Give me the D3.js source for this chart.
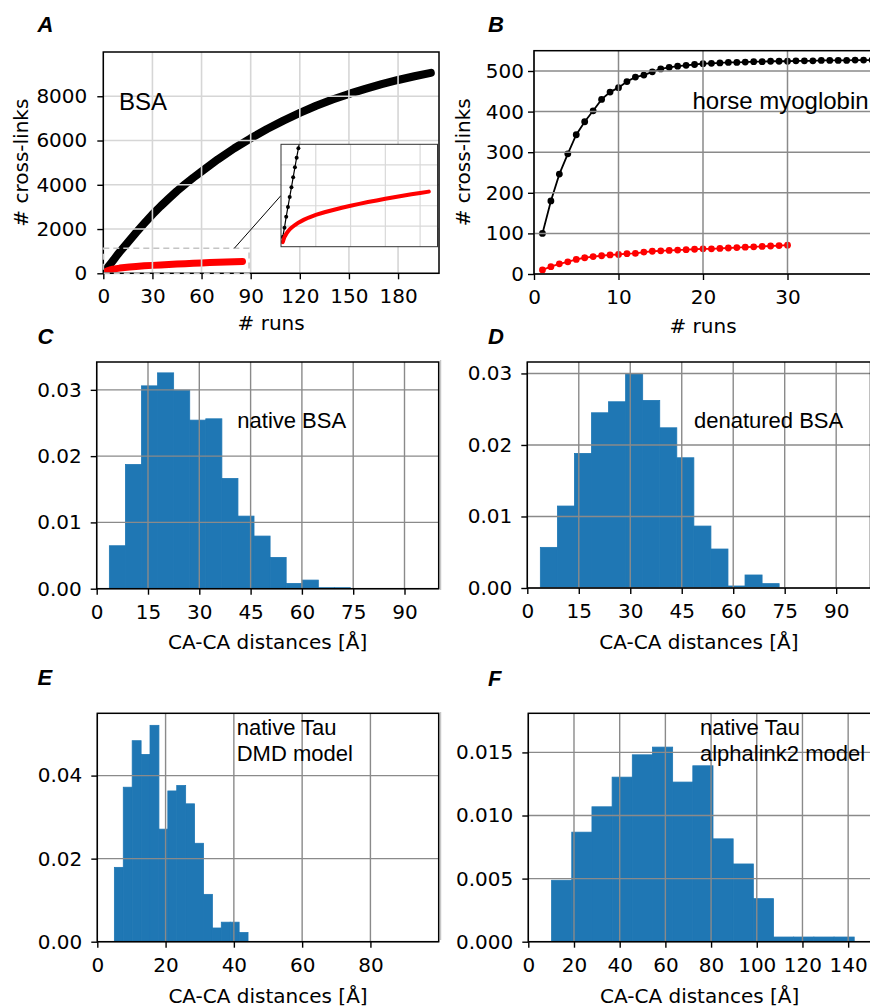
<!DOCTYPE html>
<html>
<head>
<meta charset="utf-8">
<script src="https://cdn.jsdelivr.net/npm/d3@7"></script>
<style>
  body { margin: 0; background: #fff; }
  svg { display: block; }
  .tick text { font-family: "DejaVu Sans", sans-serif; font-size: 20px; fill: #000; }
  .lab { font-family: "DejaVu Sans", sans-serif; font-size: 20px; fill: #000; }
  .note { font-family: "Liberation Sans", Arial, sans-serif; fill: #000; }
  .letter { font-family: "Liberation Sans", Arial, sans-serif; font-weight: bold; font-style: italic; font-size: 22px; }
</style>
</head>
<body>
<div id="canvas"></div>
<script>
"use strict";

// A: BSA, cumulative cross-links vs runs
let bsaRuns = [1, 2, 3, 4, 5, 6, 7, 8, 9, 10, 15, 20, 25, 30, 35, 40, 45, 50, 55, 60,
    70, 80, 90, 100, 110, 120, 130, 140, 150, 160, 170, 180, 190, 200];
let bsaAll = [95, 186, 293, 388, 485, 580, 678, 775, 869, 961, 1400, 1840, 2255, 2660, 3030, 3380, 3720, 4030, 4325, 4600,
    5150, 5650, 6100, 6520, 6900, 7250, 7570, 7855, 8105, 8335, 8545, 8735, 8905, 9060];
let bsaRedRuns = [1, 2, 3, 4, 5, 6, 8, 10, 13, 16, 20, 25, 30, 35, 40, 45, 50, 55, 60, 65, 70, 75, 80, 85];
let bsaRed = [45, 95, 125, 150, 170, 185, 212, 235, 262, 285, 310, 336, 358, 380, 400, 418, 436, 452, 468, 483, 498, 512, 525, 538];

// B: horse myoglobin
let myoRuns = [1, 2, 3, 4, 5, 6, 7, 8, 9, 10, 11, 12, 13, 14, 15, 16, 17, 18, 19, 20,
    21, 22, 23, 24, 25, 26, 27, 28, 29, 30, 31, 32, 33, 34, 35, 36, 37, 38, 39, 40];
let myoAll = [100, 180, 246, 296, 343, 375, 402, 430, 448, 459, 474, 485, 490, 498, 505, 509, 512, 514, 516, 518,
    519, 520, 521, 521, 522, 523, 523, 524, 524, 524, 525, 525, 525, 526, 526, 526, 526, 527, 527, 527];
let myoRedRuns = [1, 2, 3, 4, 5, 6, 7, 8, 9, 10, 11, 12, 13, 14, 15, 16, 17, 18, 19, 20,
    21, 22, 23, 24, 25, 26, 27, 28, 29, 30];
let myoRed = [10, 18, 25, 30, 36, 40, 43, 45, 47, 48, 50, 51, 54, 56, 57, 58, 59, 60, 61, 62,
    62, 63, 64, 65, 66, 67, 68, 69, 70, 71];

// C-F: histograms (bin edges, density)
let nativeBsaEdges = [3.7, 8.4, 13.1, 17.8, 22.5, 27.2, 31.9, 36.6, 41.3, 46.0, 50.7, 55.4, 60.1, 64.8, 69.5, 74.2];
let nativeBsaDensity = [0.00648, 0.01874, 0.0306, 0.03256, 0.02995, 0.02543, 0.02563, 0.01663, 0.01095, 0.00794,
    0.00472, 0.0008, 0.0013, 0.00015, 0.00015];
let denatBsaEdges = [3.8, 8.77, 13.74, 18.71, 23.68, 28.65, 33.62, 38.59, 43.56, 48.53, 53.5, 58.47, 63.44, 68.41, 73.38];
let denatBsaDensity = [0.00568, 0.01146, 0.01882, 0.0245, 0.02604, 0.0300, 0.02623, 0.0224, 0.01821, 0.00866,
    0.00545, 0.00028, 0.00182, 0.00061];
let tauDmdEdges = [5.0, 7.61, 10.22, 12.83, 15.44, 18.05, 20.66, 23.27, 25.88, 28.49, 31.1, 33.71, 36.32, 38.93, 41.54, 44.15];
let tauDmdDensity = [0.0179, 0.0372, 0.0484, 0.0451, 0.0521, 0.0271, 0.0363, 0.0376, 0.0332, 0.0237,
    0.0114, 0.0033, 0.0047, 0.0047, 0.0022];
let tauAlphaEdges = [10.2, 19.03, 27.86, 36.69, 45.52, 54.35, 63.18, 72.01, 80.84, 89.67, 98.5, 107.33, 116.16, 124.99, 133.82, 142.65];
let tauAlphaDensity = [0.00487, 0.00868, 0.01069, 0.01304, 0.01481, 0.01542, 0.01265, 0.01394, 0.00815, 0.00616,
    0.00341, 0.00037, 0.00037, 0.00037, 0.00037];

let svg = d3.select("#canvas")
    .append("svg")
    .attr("width", 870)
    .attr("height", 1007);

let clipCount = 0;

function panel(box, xDomain, yDomain) {
    let x = d3.scaleLinear().domain(xDomain).range([box.l, box.r]);
    let y = d3.scaleLinear().domain(yDomain).range([box.b, box.t]);
    let id = "clip" + (clipCount++);
    svg.append("clipPath").attr("id", id)
        .append("rect")
        .attr("x", box.l).attr("y", box.t)
        .attr("width", box.r - box.l).attr("height", box.b - box.t);
    let g = svg.append("g");
    let data = g.append("g").attr("clip-path", `url(#${id})`);
    return { g: g, data: data, x: x, y: y, box: box };
}

function gridAndAxes(p, xTicks, yTicks, opt) {
    let box = p.box;
    let grid = p.g.append("g").attr("stroke", opt.grid).attr("stroke-width", opt.gridWidth || 1.4);
    grid.selectAll(".gx").data(xTicks).join("line")
        .attr("x1", d => p.x(d)).attr("x2", d => p.x(d))
        .attr("y1", box.t).attr("y2", box.b);
    grid.selectAll(".gy").data(yTicks).join("line")
        .attr("x1", box.l).attr("x2", box.r)
        .attr("y1", d => p.y(d)).attr("y2", d => p.y(d));

    p.g.append("rect")
        .attr("x", box.l).attr("y", box.t)
        .attr("width", box.r - box.l).attr("height", box.b - box.t)
        .attr("fill", "none").attr("stroke", "#000").attr("stroke-width", 1.5);

    let xa = p.g.append("g").attr("transform", `translate(0,${box.b})`)
        .call(d3.axisBottom(p.x).tickValues(xTicks).tickSize(6).tickPadding(opt.xPad || 10)
            .tickFormat(opt.xFormat || d3.format("d")));
    let ya = p.g.append("g").attr("transform", `translate(${box.l},0)`)
        .call(d3.axisLeft(p.y).tickValues(yTicks).tickSize(6).tickPadding(opt.yPad || 9)
            .tickFormat(opt.yFormat || d3.format("d")));
    [xa, ya].forEach(a => {
        a.select(".domain").remove();
        a.selectAll(".tick line").attr("stroke", "#000").attr("stroke-width", 1.4);
    });

    if (opt.xLabel) {
        p.g.append("text").attr("class", "lab")
            .attr("x", (box.l + Math.min(box.r, 872)) / 2).attr("y", opt.xLabelY)
            .attr("text-anchor", "middle").text(opt.xLabel);
    }
    if (opt.yLabel) {
        p.g.append("text").attr("class", "lab")
            .attr("transform", `translate(${opt.yLabelX},${(box.t + box.b) / 2}) rotate(-90)`)
            .attr("text-anchor", "middle").text(opt.yLabel);
    }
}

function letter(txt, x, y) {
    svg.append("text").attr("class", "letter").attr("x", x).attr("y", y).text(txt);
}

function note(lines, x, y, size) {
    let t = svg.append("text").attr("class", "note").attr("font-size", size);
    lines.forEach((s, i) => {
        t.append("tspan").attr("x", x).attr("y", y + i * 26).text(s);
    });
}

function histogram(p, edges, density) {
    let bins = density.map((d, i) => ({ x0: edges[i], x1: edges[i + 1], v: d }));
    p.data.selectAll("rect").data(bins).join("rect")
        .attr("x", d => p.x(d.x0))
        .attr("width", d => p.x(d.x1) - p.x(d.x0))
        .attr("y", d => p.y(d.v))
        .attr("height", d => p.y(0) - p.y(d.v))
        .attr("fill", "#1f77b4")
        .attr("stroke", "#1f77b4")
        .attr("stroke-width", 0.8);
}

// ---------- A ----------
let pA = panel({ l: 103.3, r: 439, t: 52, b: 273.3 }, [0, 205], [0, 10000]);
let lineA = d3.line().x((d, i) => pA.x(bsaRuns[i])).y(d => pA.y(d));
pA.data.append("path").datum(bsaAll).attr("d", lineA)
    .attr("fill", "none").attr("stroke", "#000").attr("stroke-width", 8)
    .attr("stroke-linecap", "round").attr("stroke-linejoin", "round");
let lineAr = d3.line().x((d, i) => pA.x(bsaRedRuns[i])).y(d => pA.y(d));
pA.data.append("path").datum(bsaRed).attr("d", lineAr)
    .attr("fill", "none").attr("stroke", "#ff0000").attr("stroke-width", 7)
    .attr("stroke-linecap", "round").attr("stroke-linejoin", "round");
gridAndAxes(pA, d3.range(0, 181, 30), d3.range(0, 8001, 2000), {
    grid: "#d6d6d6", gridWidth: 1.6, xLabel: "# runs", xLabelY: 330,
    yLabel: "# cross-links", yLabelX: 28, yPad: 10
});
// zoom region and connector
pA.g.append("rect")
    .attr("x", pA.x(0)).attr("y", pA.y(1130))
    .attr("width", pA.x(89) - pA.x(0)).attr("height", pA.y(0) - pA.y(1130))
    .attr("fill", "none").attr("stroke", "#c4c4c4").attr("stroke-width", 1.5)
    .attr("stroke-dasharray", "6,4");

let pIn = panel({ l: 281, r: 437.5, t: 144.3, b: 246.7 }, [0, 90], [0, 1000]);
pA.g.append("line")
    .attr("x1", pA.x(80)).attr("y1", pA.y(1130))
    .attr("x2", pIn.box.l).attr("y2", (pIn.box.t + pIn.box.b) / 2)
    .attr("stroke", "#000").attr("stroke-width", 1);
pIn.g.raise();
pIn.g.insert("rect", ":first-child")
    .attr("x", pIn.box.l).attr("y", pIn.box.t)
    .attr("width", pIn.box.r - pIn.box.l).attr("height", pIn.box.b - pIn.box.t)
    .attr("fill", "#fff");
let gridIn = pIn.g.append("g").attr("stroke", "#d9d9d9").attr("stroke-width", 1.2);
gridIn.selectAll(".v").data([20, 40, 60, 80]).join("line")
    .attr("x1", d => pIn.x(d)).attr("x2", d => pIn.x(d))
    .attr("y1", pIn.box.t).attr("y2", pIn.box.b);
gridIn.selectAll(".h").data([200, 400, 600, 800]).join("line")
    .attr("x1", pIn.box.l).attr("x2", pIn.box.r)
    .attr("y1", d => pIn.y(d)).attr("y2", d => pIn.y(d));
pIn.data.raise();
let lineIn = d3.line().x((d, i) => pIn.x(bsaRuns[i])).y(d => pIn.y(d));
pIn.data.append("path").datum(bsaAll).attr("d", lineIn)
    .attr("fill", "none").attr("stroke", "#000").attr("stroke-width", 1.2);
pIn.data.selectAll("circle").data(bsaAll).join("circle")
    .attr("cx", (d, i) => pIn.x(bsaRuns[i])).attr("cy", d => pIn.y(d)).attr("r", 2);
let lineInR = d3.line().x((d, i) => pIn.x(bsaRedRuns[i])).y(d => pIn.y(d));
pIn.data.append("path").datum(bsaRed).attr("d", lineInR)
    .attr("fill", "none").attr("stroke", "#ff0000").attr("stroke-width", 4)
    .attr("stroke-linecap", "round");
pIn.g.append("rect")
    .attr("x", pIn.box.l).attr("y", pIn.box.t)
    .attr("width", pIn.box.r - pIn.box.l).attr("height", pIn.box.b - pIn.box.t)
    .attr("fill", "none").attr("stroke", "#333").attr("stroke-width", 1);

note(["BSA"], 119, 110, 24);
letter("A", 37.5, 31.5);

// ---------- B ----------
let pB = panel({ l: 534, r: 872, t: 50.7, b: 274 }, [0, 40], [0, 550]);
let lineB = d3.line().x((d, i) => pB.x(myoRuns[i])).y(d => pB.y(d));
pB.data.append("path").datum(myoAll).attr("d", lineB)
    .attr("fill", "none").attr("stroke", "#000").attr("stroke-width", 1.8);
pB.data.selectAll(".blk").data(myoAll).join("circle")
    .attr("cx", (d, i) => pB.x(myoRuns[i])).attr("cy", d => pB.y(d)).attr("r", 3.4).attr("fill", "#000");
let lineBr = d3.line().x((d, i) => pB.x(myoRedRuns[i])).y(d => pB.y(d));
pB.data.append("path").datum(myoRed).attr("d", lineBr)
    .attr("fill", "none").attr("stroke", "#ff0000").attr("stroke-width", 1.8);
pB.data.selectAll(".red").data(myoRed).join("circle")
    .attr("cx", (d, i) => pB.x(myoRedRuns[i])).attr("cy", d => pB.y(d)).attr("r", 3.4).attr("fill", "#ff0000");
gridAndAxes(pB, [0, 10, 20, 30], d3.range(0, 501, 100), {
    grid: "#8a8a8a", gridWidth: 1.5, xLabel: "# runs", xLabelY: 333,
    yLabel: "# cross-links", yLabelX: 470, yPad: 4
});
note(["horse myoglobin"], 692.5, 109.3, 24);
letter("B", 488, 31.5);

// ---------- C ----------
let pC = panel({ l: 96.7, r: 438.7, t: 362, b: 588.7 }, [0, 100], [0, 0.0342]);
histogram(pC, nativeBsaEdges, nativeBsaDensity);
gridAndAxes(pC, d3.range(0, 91, 15), [0, 0.01, 0.02, 0.03], {
    grid: "#8a8a8a", yFormat: d3.format(".2f"),
    xLabel: "CA-CA distances [Å]", xLabelY: 649
});
note(["native BSA"], 237.3, 428.3, 22);
letter("C", 37.5, 344);

// ---------- D ----------
let pD = panel({ l: 527.3, r: 870.5, t: 362, b: 588 }, [0, 100], [0, 0.0316]);
histogram(pD, denatBsaEdges, denatBsaDensity);
gridAndAxes(pD, d3.range(0, 91, 15), [0, 0.01, 0.02, 0.03], {
    grid: "#8a8a8a", yFormat: d3.format(".2f"),
    xLabel: "CA-CA distances [Å]", xLabelY: 649
});
note(["denatured BSA"], 694, 428.3, 22);
letter("D", 488, 344);

// ---------- E ----------
let pE = panel({ l: 97.3, r: 438.7, t: 713.3, b: 941.7 }, [0, 100], [0, 0.055]);
histogram(pE, tauDmdEdges, tauDmdDensity);
gridAndAxes(pE, d3.range(0, 81, 20), [0, 0.02, 0.04], {
    grid: "#8a8a8a", yFormat: d3.format(".2f"),
    xLabel: "CA-CA distances [Å]", xLabelY: 1002.5
});
note(["native Tau", "DMD model"], 236.7, 735, 22);
letter("E", 37.5, 685);

// ---------- F ----------
let pF = panel({ l: 528.3, r: 871, t: 713.3, b: 941.7 }, [0, 150], [0, 0.0181]);
histogram(pF, tauAlphaEdges, tauAlphaDensity);
gridAndAxes(pF, d3.range(0, 141, 20), [0, 0.005, 0.01, 0.015], {
    grid: "#8a8a8a", yFormat: d3.format(".3f"),
    xLabel: "CA-CA distances [Å]", xLabelY: 1002.5
});
note(["native Tau", "alphalink2 model"], 700, 735, 22);
letter("F", 488, 686);

// faint seam between left and right figure halves
svg.append("line").attr("x1", 440.7).attr("x2", 440.7).attr("y1", 360).attr("y2", 590)
    .attr("stroke", "#bbb").attr("stroke-width", 1);
svg.append("line").attr("x1", 440.7).attr("x2", 440.7).attr("y1", 712).attr("y2", 940)
    .attr("stroke", "#bbb").attr("stroke-width", 1);
</script>
</body>
</html>
